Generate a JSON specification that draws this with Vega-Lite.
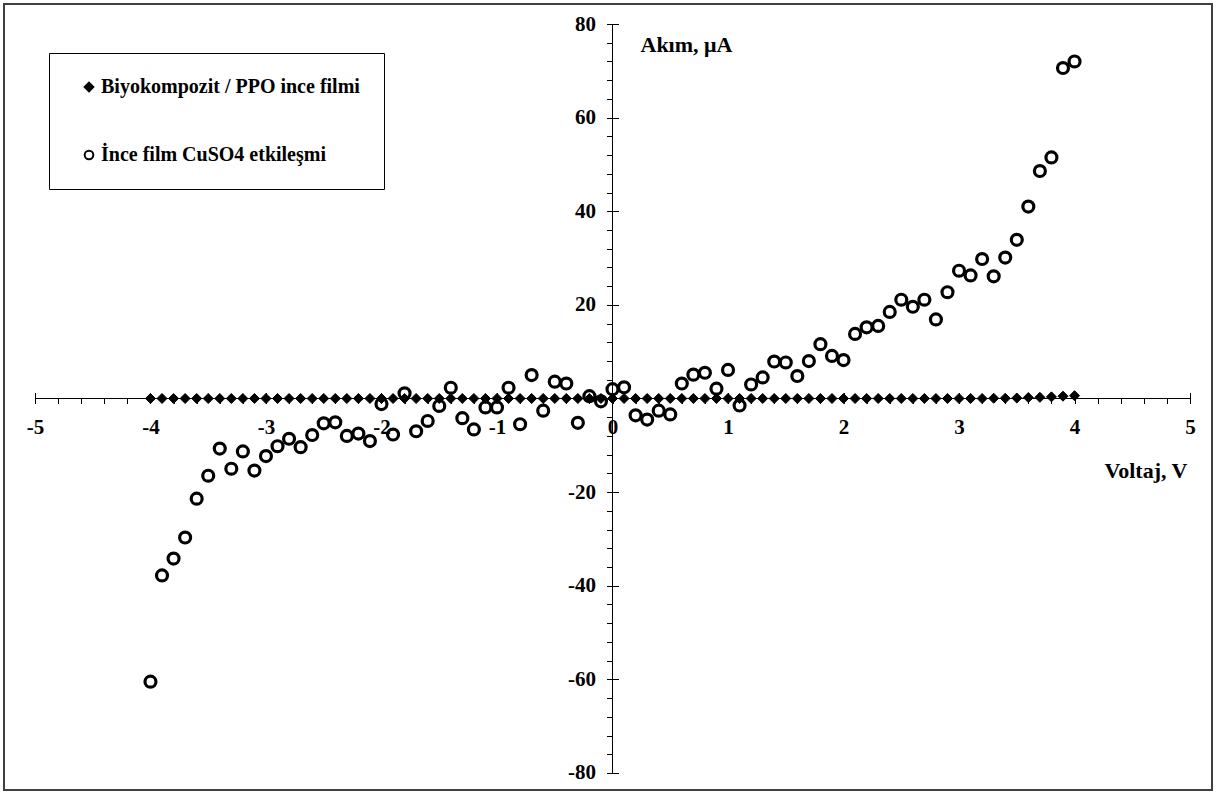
{
  "$schema": "https://vega.github.io/schema/vega-lite/v6.json",
  "width": 1208,
  "height": 786,
  "autosize": "none",
  "padding": {"left": 4, "top": 4, "right": 5, "bottom": 4},
  "background": "white",
  "data": {"values": [
      {"V": -4.0, "I": 0, "s": "Biyokompozit / PPO ince filmi"}, {"V": -3.9, "I": 0, "s": "Biyokompozit / PPO ince filmi"}, {"V": -3.8, "I": 0, "s": "Biyokompozit / PPO ince filmi"}, {"V": -3.7, "I": 0, "s": "Biyokompozit / PPO ince filmi"}, {"V": -3.6, "I": 0, "s": "Biyokompozit / PPO ince filmi"},
      {"V": -3.5, "I": 0, "s": "Biyokompozit / PPO ince filmi"}, {"V": -3.4, "I": 0, "s": "Biyokompozit / PPO ince filmi"}, {"V": -3.3, "I": 0, "s": "Biyokompozit / PPO ince filmi"}, {"V": -3.2, "I": 0, "s": "Biyokompozit / PPO ince filmi"}, {"V": -3.1, "I": 0, "s": "Biyokompozit / PPO ince filmi"},
      {"V": -3.0, "I": 0, "s": "Biyokompozit / PPO ince filmi"}, {"V": -2.9, "I": 0, "s": "Biyokompozit / PPO ince filmi"}, {"V": -2.8, "I": 0, "s": "Biyokompozit / PPO ince filmi"}, {"V": -2.7, "I": 0, "s": "Biyokompozit / PPO ince filmi"}, {"V": -2.6, "I": 0, "s": "Biyokompozit / PPO ince filmi"},
      {"V": -2.5, "I": 0, "s": "Biyokompozit / PPO ince filmi"}, {"V": -2.4, "I": 0, "s": "Biyokompozit / PPO ince filmi"}, {"V": -2.3, "I": 0, "s": "Biyokompozit / PPO ince filmi"}, {"V": -2.2, "I": 0, "s": "Biyokompozit / PPO ince filmi"}, {"V": -2.1, "I": 0, "s": "Biyokompozit / PPO ince filmi"},
      {"V": -2.0, "I": 0, "s": "Biyokompozit / PPO ince filmi"}, {"V": -1.9, "I": 0, "s": "Biyokompozit / PPO ince filmi"}, {"V": -1.8, "I": 0, "s": "Biyokompozit / PPO ince filmi"}, {"V": -1.7, "I": 0, "s": "Biyokompozit / PPO ince filmi"}, {"V": -1.6, "I": 0, "s": "Biyokompozit / PPO ince filmi"},
      {"V": -1.5, "I": 0, "s": "Biyokompozit / PPO ince filmi"}, {"V": -1.4, "I": 0, "s": "Biyokompozit / PPO ince filmi"}, {"V": -1.3, "I": 0, "s": "Biyokompozit / PPO ince filmi"}, {"V": -1.2, "I": 0, "s": "Biyokompozit / PPO ince filmi"}, {"V": -1.1, "I": 0, "s": "Biyokompozit / PPO ince filmi"},
      {"V": -1.0, "I": 0, "s": "Biyokompozit / PPO ince filmi"}, {"V": -0.9, "I": 0, "s": "Biyokompozit / PPO ince filmi"}, {"V": -0.8, "I": 0, "s": "Biyokompozit / PPO ince filmi"}, {"V": -0.7, "I": 0, "s": "Biyokompozit / PPO ince filmi"}, {"V": -0.6, "I": 0, "s": "Biyokompozit / PPO ince filmi"},
      {"V": -0.5, "I": 0, "s": "Biyokompozit / PPO ince filmi"}, {"V": -0.4, "I": 0, "s": "Biyokompozit / PPO ince filmi"}, {"V": -0.3, "I": 0, "s": "Biyokompozit / PPO ince filmi"}, {"V": -0.2, "I": 0, "s": "Biyokompozit / PPO ince filmi"}, {"V": -0.1, "I": 0, "s": "Biyokompozit / PPO ince filmi"},
      {"V": 0.0, "I": 0, "s": "Biyokompozit / PPO ince filmi"}, {"V": 0.1, "I": 0, "s": "Biyokompozit / PPO ince filmi"}, {"V": 0.2, "I": 0, "s": "Biyokompozit / PPO ince filmi"}, {"V": 0.3, "I": 0, "s": "Biyokompozit / PPO ince filmi"}, {"V": 0.4, "I": 0, "s": "Biyokompozit / PPO ince filmi"},
      {"V": 0.5, "I": 0, "s": "Biyokompozit / PPO ince filmi"}, {"V": 0.6, "I": 0, "s": "Biyokompozit / PPO ince filmi"}, {"V": 0.7, "I": 0, "s": "Biyokompozit / PPO ince filmi"}, {"V": 0.8, "I": 0, "s": "Biyokompozit / PPO ince filmi"}, {"V": 0.9, "I": 0, "s": "Biyokompozit / PPO ince filmi"},
      {"V": 1.0, "I": 0, "s": "Biyokompozit / PPO ince filmi"}, {"V": 1.1, "I": 0, "s": "Biyokompozit / PPO ince filmi"}, {"V": 1.2, "I": 0, "s": "Biyokompozit / PPO ince filmi"}, {"V": 1.3, "I": 0, "s": "Biyokompozit / PPO ince filmi"}, {"V": 1.4, "I": 0, "s": "Biyokompozit / PPO ince filmi"},
      {"V": 1.5, "I": 0, "s": "Biyokompozit / PPO ince filmi"}, {"V": 1.6, "I": 0, "s": "Biyokompozit / PPO ince filmi"}, {"V": 1.7, "I": 0, "s": "Biyokompozit / PPO ince filmi"}, {"V": 1.8, "I": 0, "s": "Biyokompozit / PPO ince filmi"}, {"V": 1.9, "I": 0, "s": "Biyokompozit / PPO ince filmi"},
      {"V": 2.0, "I": 0, "s": "Biyokompozit / PPO ince filmi"}, {"V": 2.1, "I": 0, "s": "Biyokompozit / PPO ince filmi"}, {"V": 2.2, "I": 0, "s": "Biyokompozit / PPO ince filmi"}, {"V": 2.3, "I": 0, "s": "Biyokompozit / PPO ince filmi"}, {"V": 2.4, "I": 0, "s": "Biyokompozit / PPO ince filmi"},
      {"V": 2.5, "I": 0, "s": "Biyokompozit / PPO ince filmi"}, {"V": 2.6, "I": 0, "s": "Biyokompozit / PPO ince filmi"}, {"V": 2.7, "I": 0, "s": "Biyokompozit / PPO ince filmi"}, {"V": 2.8, "I": 0, "s": "Biyokompozit / PPO ince filmi"}, {"V": 2.9, "I": 0, "s": "Biyokompozit / PPO ince filmi"},
      {"V": 3.0, "I": 0, "s": "Biyokompozit / PPO ince filmi"}, {"V": 3.1, "I": 0, "s": "Biyokompozit / PPO ince filmi"}, {"V": 3.2, "I": 0, "s": "Biyokompozit / PPO ince filmi"}, {"V": 3.3, "I": 0.05, "s": "Biyokompozit / PPO ince filmi"}, {"V": 3.4, "I": 0.05, "s": "Biyokompozit / PPO ince filmi"},
      {"V": 3.5, "I": 0.1, "s": "Biyokompozit / PPO ince filmi"}, {"V": 3.6, "I": 0.2, "s": "Biyokompozit / PPO ince filmi"}, {"V": 3.7, "I": 0.25, "s": "Biyokompozit / PPO ince filmi"}, {"V": 3.8, "I": 0.35, "s": "Biyokompozit / PPO ince filmi"}, {"V": 3.9, "I": 0.5, "s": "Biyokompozit / PPO ince filmi"},
      {"V": 4.0, "I": 0.6, "s": "Biyokompozit / PPO ince filmi"},
      {"V": -4.0, "I": -60.5, "s": "İnce film CuSO4 etkileşmi"}, {"V": -3.9, "I": -37.8, "s": "İnce film CuSO4 etkileşmi"}, {"V": -3.8, "I": -34.2, "s": "İnce film CuSO4 etkileşmi"}, {"V": -3.7, "I": -29.7, "s": "İnce film CuSO4 etkileşmi"}, {"V": -3.6, "I": -21.4, "s": "İnce film CuSO4 etkileşmi"},
      {"V": -3.5, "I": -16.5, "s": "İnce film CuSO4 etkileşmi"}, {"V": -3.4, "I": -10.7, "s": "İnce film CuSO4 etkileşmi"}, {"V": -3.3, "I": -15.0, "s": "İnce film CuSO4 etkileşmi"}, {"V": -3.2, "I": -11.3, "s": "İnce film CuSO4 etkileşmi"}, {"V": -3.1, "I": -15.4, "s": "İnce film CuSO4 etkileşmi"},
      {"V": -3.0, "I": -12.3, "s": "İnce film CuSO4 etkileşmi"}, {"V": -2.9, "I": -10.2, "s": "İnce film CuSO4 etkileşmi"}, {"V": -2.8, "I": -8.6, "s": "İnce film CuSO4 etkileşmi"}, {"V": -2.7, "I": -10.4, "s": "İnce film CuSO4 etkileşmi"}, {"V": -2.6, "I": -7.8, "s": "İnce film CuSO4 etkileşmi"},
      {"V": -2.5, "I": -5.3, "s": "İnce film CuSO4 etkileşmi"}, {"V": -2.4, "I": -5.1, "s": "İnce film CuSO4 etkileşmi"}, {"V": -2.3, "I": -8.0, "s": "İnce film CuSO4 etkileşmi"}, {"V": -2.2, "I": -7.5, "s": "İnce film CuSO4 etkileşmi"}, {"V": -2.1, "I": -9.1, "s": "İnce film CuSO4 etkileşmi"},
      {"V": -2.0, "I": -1.2, "s": "İnce film CuSO4 etkileşmi"}, {"V": -1.9, "I": -7.7, "s": "İnce film CuSO4 etkileşmi"}, {"V": -1.8, "I": 1.1, "s": "İnce film CuSO4 etkileşmi"}, {"V": -1.7, "I": -7.0, "s": "İnce film CuSO4 etkileşmi"}, {"V": -1.6, "I": -4.8, "s": "İnce film CuSO4 etkileşmi"},
      {"V": -1.5, "I": -1.6, "s": "İnce film CuSO4 etkileşmi"}, {"V": -1.4, "I": 2.3, "s": "İnce film CuSO4 etkileşmi"}, {"V": -1.3, "I": -4.2, "s": "İnce film CuSO4 etkileşmi"}, {"V": -1.2, "I": -6.6, "s": "İnce film CuSO4 etkileşmi"}, {"V": -1.1, "I": -1.9, "s": "İnce film CuSO4 etkileşmi"},
      {"V": -1.0, "I": -1.9, "s": "İnce film CuSO4 etkileşmi"}, {"V": -0.9, "I": 2.3, "s": "İnce film CuSO4 etkileşmi"}, {"V": -0.8, "I": -5.5, "s": "İnce film CuSO4 etkileşmi"}, {"V": -0.7, "I": 5.0, "s": "İnce film CuSO4 etkileşmi"}, {"V": -0.6, "I": -2.6, "s": "İnce film CuSO4 etkileşmi"},
      {"V": -0.5, "I": 3.6, "s": "İnce film CuSO4 etkileşmi"}, {"V": -0.4, "I": 3.2, "s": "İnce film CuSO4 etkileşmi"}, {"V": -0.3, "I": -5.2, "s": "İnce film CuSO4 etkileşmi"}, {"V": -0.2, "I": 0.5, "s": "İnce film CuSO4 etkileşmi"}, {"V": -0.1, "I": -0.6, "s": "İnce film CuSO4 etkileşmi"},
      {"V": 0.0, "I": 2.0, "s": "İnce film CuSO4 etkileşmi"}, {"V": 0.1, "I": 2.4, "s": "İnce film CuSO4 etkileşmi"}, {"V": 0.2, "I": -3.6, "s": "İnce film CuSO4 etkileşmi"}, {"V": 0.3, "I": -4.5, "s": "İnce film CuSO4 etkileşmi"}, {"V": 0.4, "I": -2.6, "s": "İnce film CuSO4 etkileşmi"},
      {"V": 0.5, "I": -3.4, "s": "İnce film CuSO4 etkileşmi"}, {"V": 0.6, "I": 3.2, "s": "İnce film CuSO4 etkileşmi"}, {"V": 0.7, "I": 5.1, "s": "İnce film CuSO4 etkileşmi"}, {"V": 0.8, "I": 5.5, "s": "İnce film CuSO4 etkileşmi"}, {"V": 0.9, "I": 2.1, "s": "İnce film CuSO4 etkileşmi"},
      {"V": 1.0, "I": 6.1, "s": "İnce film CuSO4 etkileşmi"}, {"V": 1.1, "I": -1.5, "s": "İnce film CuSO4 etkileşmi"}, {"V": 1.2, "I": 3.0, "s": "İnce film CuSO4 etkileşmi"}, {"V": 1.3, "I": 4.5, "s": "İnce film CuSO4 etkileşmi"}, {"V": 1.4, "I": 7.9, "s": "İnce film CuSO4 etkileşmi"},
      {"V": 1.5, "I": 7.7, "s": "İnce film CuSO4 etkileşmi"}, {"V": 1.6, "I": 4.8, "s": "İnce film CuSO4 etkileşmi"}, {"V": 1.7, "I": 8.0, "s": "İnce film CuSO4 etkileşmi"}, {"V": 1.8, "I": 11.6, "s": "İnce film CuSO4 etkileşmi"}, {"V": 1.9, "I": 9.1, "s": "İnce film CuSO4 etkileşmi"},
      {"V": 2.0, "I": 8.2, "s": "İnce film CuSO4 etkileşmi"}, {"V": 2.1, "I": 13.8, "s": "İnce film CuSO4 etkileşmi"}, {"V": 2.2, "I": 15.2, "s": "İnce film CuSO4 etkileşmi"}, {"V": 2.3, "I": 15.5, "s": "İnce film CuSO4 etkileşmi"}, {"V": 2.4, "I": 18.5, "s": "İnce film CuSO4 etkileşmi"},
      {"V": 2.5, "I": 21.1, "s": "İnce film CuSO4 etkileşmi"}, {"V": 2.6, "I": 19.6, "s": "İnce film CuSO4 etkileşmi"}, {"V": 2.7, "I": 21.1, "s": "İnce film CuSO4 etkileşmi"}, {"V": 2.8, "I": 16.9, "s": "İnce film CuSO4 etkileşmi"}, {"V": 2.9, "I": 22.7, "s": "İnce film CuSO4 etkileşmi"},
      {"V": 3.0, "I": 27.3, "s": "İnce film CuSO4 etkileşmi"}, {"V": 3.1, "I": 26.3, "s": "İnce film CuSO4 etkileşmi"}, {"V": 3.2, "I": 29.8, "s": "İnce film CuSO4 etkileşmi"}, {"V": 3.3, "I": 26.1, "s": "İnce film CuSO4 etkileşmi"}, {"V": 3.4, "I": 30.1, "s": "İnce film CuSO4 etkileşmi"},
      {"V": 3.5, "I": 33.9, "s": "İnce film CuSO4 etkileşmi"}, {"V": 3.6, "I": 41.0, "s": "İnce film CuSO4 etkileşmi"}, {"V": 3.7, "I": 48.6, "s": "İnce film CuSO4 etkileşmi"}, {"V": 3.8, "I": 51.5, "s": "İnce film CuSO4 etkileşmi"}, {"V": 3.9, "I": 70.6, "s": "İnce film CuSO4 etkileşmi"},
      {"V": 4.0, "I": 72.0, "s": "İnce film CuSO4 etkileşmi"}
  ]},
  "layer": [
    {
      "data": {"values": [{"a": -5, "b": 5, "c": 0}]},
      "mark": {"type": "rule", "color": "black"},
      "encoding": {
        "x": {"field": "a", "type": "quantitative", "scale": {"domain": [-5.268, 5.19], "nice": false, "zero": false}, "axis": null},
        "x2": {"field": "b"},
        "y": {"field": "c", "type": "quantitative", "scale": {"domain": [-83.64, 84.28], "nice": false, "zero": false}, "axis": null}
      }
    },
    {
      "data": {"values": [{"a": 0, "c": -80, "d": 80}]},
      "mark": {"type": "rule", "color": "black"},
      "encoding": {
        "x": {"field": "a", "type": "quantitative", "axis": null},
        "y": {"field": "c", "type": "quantitative", "axis": null},
        "y2": {"field": "d"}
      }
    },
    {
      "transform": [{"filter": "datum.s === 'Biyokompozit / PPO ince filmi'"}],
      "mark": {"type": "point", "filled": true, "size": 100, "strokeWidth": 1, "opacity": 1},
      "encoding": {
        "x": {
          "field": "V", "type": "quantitative",
          "axis": {
            "orient": "bottom", "offset": -391.5, "domain": false, "grid": false, "tickSize": 5,
            "values": [-5, -4.8, -4.6, -4.4, -4.2, -4, -3.8, -3.6, -3.4, -3.2, -3, -2.8, -2.6, -2.4, -2.2, -2, -1.8, -1.6, -1.4, -1.2, -1, -0.8, -0.6, -0.4, -0.2, 0, 0.2, 0.4, 0.6, 0.8, 1, 1.2, 1.4, 1.6, 1.8, 2, 2.2, 2.4, 2.6, 2.8, 3, 3.2, 3.4, 3.6, 3.8, 4, 4.2, 4.4, 4.6, 4.8, 5],
            "labelExpr": "datum.value % 1 === 0 ? toString(datum.value) : ''",
            "labelPadding": 13, "labelOverlap": false, "labelFlush": false,
            "title": "Voltaj, V", "titleX": 1183, "titleY": 79, "titleAlign": "right", "titleBaseline": "alphabetic"
          }
        },
        "y": {
          "field": "I", "type": "quantitative",
          "axis": {
            "orient": "left", "offset": -608.5, "domain": false, "grid": false, "tickSize": 6,
            "values": [-80, -76, -72, -68, -64, -60, -56, -52, -48, -44, -40, -36, -32, -28, -24, -20, -16, -12, -8, -4, 0, 4, 8, 12, 16, 20, 24, 28, 32, 36, 40, 44, 48, 52, 56, 60, 64, 68, 72, 76, 80],
            "labelExpr": "datum.value % 20 === 0 && datum.value !== 0 ? toString(datum.value) : ''",
            "labelPadding": 11, "labelOverlap": false, "labelFlush": false,
            "title": "Akım,  μA", "titleAngle": 0, "titleX": 27.5, "titleY": 47, "titleAlign": "left", "titleBaseline": "alphabetic"
          }
        },
        "shape": {
          "field": "s", "type": "nominal",
          "scale": {"domain": ["Biyokompozit / PPO ince filmi", "İnce film CuSO4 etkileşmi"], "range": ["diamond", "circle"]},
          "legend": {"orient": "none", "legendX": 45, "legendY": 49, "title": null}
        },
        "fill": {
          "field": "s", "type": "nominal",
          "scale": {"domain": ["Biyokompozit / PPO ince filmi", "İnce film CuSO4 etkileşmi"], "range": ["black", "transparent"]},
          "legend": {"orient": "none", "legendX": 45, "legendY": 49, "title": null}
        },
        "stroke": {
          "field": "s", "type": "nominal",
          "scale": {"domain": ["Biyokompozit / PPO ince filmi", "İnce film CuSO4 etkileşmi"], "range": ["black", "black"]},
          "legend": {"orient": "none", "legendX": 45, "legendY": 49, "title": null}
        }
      }
    },
    {
      "transform": [{"filter": "datum.s === 'İnce film CuSO4 etkileşmi'"}],
      "mark": {"type": "point", "filled": true, "size": 120, "strokeWidth": 3.2, "opacity": 1},
      "encoding": {
        "x": {
          "field": "V", "type": "quantitative",
          "axis": {
            "orient": "top", "offset": -394.5, "domain": false, "grid": false, "tickSize": 6, "labels": false, "title": null,
            "values": [-5, -4, -3, -2, -1, 0, 1, 2, 3, 4, 5]
          }
        },
        "y": {
          "field": "I", "type": "quantitative",
          "axis": {
            "orient": "right", "offset": -599.5, "domain": false, "grid": false, "tickSize": 6, "labels": false, "title": null,
            "values": [-80, -60, -40, -20, 0, 20, 40, 60, 80]
          }
        },
        "shape": {"field": "s", "type": "nominal"},
        "fill": {"field": "s", "type": "nominal"},
        "stroke": {"field": "s", "type": "nominal"}
      }
    }
  ],
  "resolve": {"axis": {"x": "independent", "y": "independent"}},
  "config": {
    "font": "'Liberation Serif', 'Times New Roman', serif",
    "view": {"stroke": "#404040", "strokeWidth": 2},
    "axis": {
      "labelFont": "'Liberation Serif', 'Times New Roman', serif", "labelFontWeight": "bold", "labelFontSize": 21, "labelColor": "black",
      "tickColor": "black", "domainColor": "black",
      "titleFont": "'Liberation Serif', 'Times New Roman', serif", "titleFontWeight": "bold", "titleFontSize": 22, "titleColor": "black"
    },
    "legend": {
      "padding": 24, "strokeColor": "black", "rowPadding": 48, "symbolOffset": 6, "labelOffset": 2,
      "symbolSize": 75, "symbolStrokeWidth": 2, "symbolStrokeColor": "black",
      "labelFont": "'Liberation Serif', 'Times New Roman', serif", "labelFontWeight": "bold", "labelFontSize": 20, "labelColor": "black", "labelLimit": 400
    }
  }
}
